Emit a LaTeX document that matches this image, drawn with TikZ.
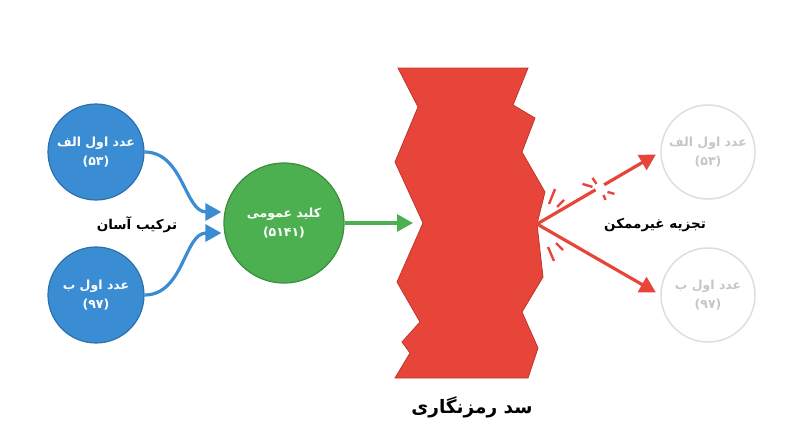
\documentclass[tikz,border=0pt]{standalone}
\usepackage{fontspec}
\usepackage{xcolor}
\usetikzlibrary{arrows.meta,calc}
\TeXXeTstate=1
\newfontfamily\fa[Script=Arabic]{DejaVu Sans}
\definecolor{primeblue}{HTML}{3B8DD3}
\definecolor{primedark}{HTML}{2C70AE}
\definecolor{keygreen}{HTML}{4CAF50}
\definecolor{keydark}{HTML}{3A8E3E}
\definecolor{damred}{HTML}{E74539}
\definecolor{damdark}{HTML}{C0352B}
\definecolor{ghostline}{HTML}{DEDEDE}
\definecolor{ghosttext}{HTML}{C6C6C6}

\begin{document}
\begin{tikzpicture}[x=1pt, y=-1pt,
    prime/.style={circle, draw=primedark, line width=1.2pt, fill=primeblue, minimum size=96pt, inner sep=0pt,
        align=center, text=white, font=\fa\bfseries\fontsize{12.5}{19}\selectfont},
    pubkey/.style={circle, draw=keydark, line width=1.2pt, fill=keygreen, minimum size=120pt, inner sep=0pt,
        align=center, text=white, font=\fa\bfseries\fontsize{12.5}{19}\selectfont},
    ghost/.style={circle, draw=ghostline, line width=1.5pt, minimum size=94pt, inner sep=0pt,
        align=center, text=ghosttext, font=\fa\bfseries\fontsize{12.5}{19}\selectfont},
    dam/.style={fill=damred, draw=damdark, line width=0.8pt, line join=miter},
    caption/.style={font=\fa\bfseries\fontsize{13.5}{16}\selectfont},
    easy/.style={draw=primeblue, line width=3.2pt, -{Triangle[length=16pt,width=17pt]}},
    push/.style={draw=keygreen, line width=3.2pt, -{Triangle[length=16pt,width=17pt]}},
    broken/.style={draw=damred, line width=3.2pt},
    spark/.style={draw=damred, line width=2.4pt}]
    \useasboundingbox (0,0) rectangle (800,447);

    % Primes
    \node[prime] (pa) at (96,152) {\beginR عدد اول الف\endR\\(۵۳)};
    \node[prime] (pb) at (96,295) {\beginR عدد اول ب\endR\\(۹۷)};
    \node[caption] (combine) at (137,225) {\beginR ترکیب آسان\endR};

    % Public key
    \node[pubkey] (key) at (284,223) {\beginR کلید عمومی\endR\\(۵۱۴۱)};
    \draw[easy, shorten >=2pt] (pa.east) to[out=0, in=180] ($(key.west)+(0,-11)$);
    \draw[easy, shorten >=2pt] (pb.east) to[out=0, in=180] ($(key.west)+(0,10)$);

    % Encryption wall
    \coordinate (lnotch) at (423,223);
    \coordinate (rnotch) at (537,224);
    \draw[dam] (398,68) -- (528,68) -- (513,105) -- (535,118) -- (522,152) -- (545,192) -- (rnotch)
        -- (543,277) -- (522,312) -- (538,348) -- (528,378) -- (395,378) -- (410,353) -- (402,342)
        -- (420,322) -- (397,282) -- (lnotch) -- (395,162) -- (418,107) -- cycle;
    \node[caption, font=\fa\bfseries\fontsize{18.5}{22}\selectfont] (wall) at (472,407) {\beginR سد رمزنگاری\endR};
    \draw[push, shorten >=10pt] (key.east) -- (lnotch);

    % Faded primes
    \node[ghost] (ga) at (708,152) {\beginR عدد اول الف\endR\\(۵۳)};
    \node[ghost] (gb) at (708,295) {\beginR عدد اول ب\endR\\(۹۷)};
    \node[caption] (hard) at (655,225) {\beginR تجزیه غیرممکن\endR};

    % Breaking arrows
    \coordinate (brk) at ($(rnotch)!0.515!(ga.west)$);
    \draw[broken] (rnotch) -- ($(rnotch)!0.475!(ga.west)$);
    \draw[broken, -{Triangle[length=16pt,width=17pt]}, shorten >=5pt] ($(rnotch)!0.545!(ga.west)$) -- (ga.west);
    \draw[broken, -{Triangle[length=16pt,width=17pt]}, shorten >=5pt] (rnotch) -- (gb.west);
    \draw[spark] ($(brk)+(-18,-3)$) -- ($(brk)+(-8,0)$);
    \draw[spark] ($(brk)+(-8,-9)$) -- ($(brk)+(-4,-3)$);
    \draw[spark] ($(brk)+(7,5)$) -- ($(brk)+(14,7)$);
    \draw[spark] ($(brk)+(3,8)$) -- ($(brk)+(5,13)$);
    \draw[spark] (555,189) -- (549,204);
    \draw[spark] (564,200) -- (557,207);
    \draw[spark] (548,247) -- (554,261);
    \draw[spark] (556,243) -- (563,250);
\end{tikzpicture}
\end{document}
